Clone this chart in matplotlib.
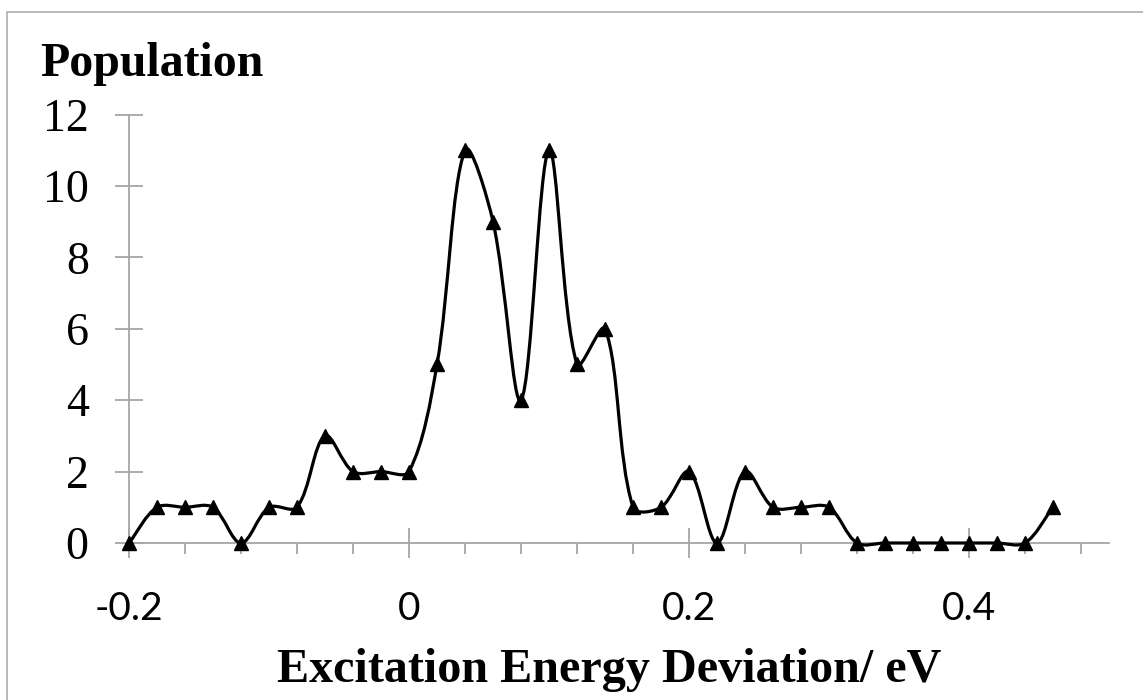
import numpy as np
import matplotlib
matplotlib.use("Agg")
import matplotlib.pyplot as plt
from matplotlib.path import Path
from matplotlib.patches import PathPatch, Rectangle
from matplotlib.ticker import MultipleLocator

# Data
energy = [-0.20, -0.18, -0.16, -0.14, -0.12, -0.10, -0.08, -0.06, -0.04, -0.02,
          0.00, 0.02, 0.04, 0.06, 0.08, 0.10, 0.12, 0.14, 0.16, 0.18,
          0.20, 0.22, 0.24, 0.26, 0.28, 0.30, 0.32, 0.34, 0.36, 0.38,
          0.40, 0.42, 0.44, 0.46]
population = [0, 1, 1, 1, 0, 1, 1, 3, 2, 2,
              2, 5, 11, 9, 4, 11, 5, 6, 1, 1,
              2, 0, 2, 1, 1, 1, 0, 0, 0, 0,
              0, 0, 0, 1]
x_ticks = [-0.2, 0, 0.2, 0.4]
x_tick_labels = ["-0.2", "0", "0.2", "0.4"]
y_ticks = [0, 2, 4, 6, 8, 10, 12]

W, H = 1143, 700
fig = plt.figure(figsize=(W / 100, H / 100), dpi=100)
ax_w, ax_h = (1109 - 129) / W, (543 - 114.5) / H
ax = fig.add_axes([129 / W, 1 - 543 / H, ax_w, ax_h])
xmin, xmax, ymin, ymax = -0.2, 0.5, 0, 12
ax.set_xlim(xmin, xmax)
ax.set_ylim(ymin, ymax)

# Smoothed line (Excel-like Bezier smoothing, computed in screen-space scale)
sx = ax_w * W / (xmax - xmin)
sy = ax_h * H / (ymax - ymin)
pts = np.column_stack([np.array(energy, float) * sx, np.array(population, float) * sy])
n = len(pts)

def dist(a, b):
    return float(np.hypot(*(pts[a] - pts[b])))

def tangent(i):
    return pts[min(i + 1, n - 1)] - pts[max(i - 1, 0)]

verts = [tuple(pts[0])]
codes = [Path.MOVETO]
for i in range(n - 1):
    d01 = dist(max(i - 1, 0), i)
    d12 = dist(i, i + 1)
    d23 = dist(i + 1, min(i + 2, n - 1))
    f1 = d12 / (d01 + d12) / 3.0 if d01 + d12 > 0 else 0
    f2 = d12 / (d12 + d23) / 3.0 if d12 + d23 > 0 else 0
    c1 = pts[i] + tangent(i) * f1
    c2 = pts[i + 1] - tangent(i + 1) * f2
    verts += [tuple(c1), tuple(c2), tuple(pts[i + 1])]
    codes += [Path.CURVE4] * 3
verts = [(vx / sx, vy / sy) for vx, vy in verts]
ax.add_patch(PathPatch(Path(verts, codes), facecolor="none", edgecolor="black",
                       lw=2.3, clip_on=False, zorder=3))
ax.plot(energy, population, linestyle="none", marker="^", color="black",
        markersize=10, clip_on=False, zorder=4)

for s in ["top", "right"]:
    ax.spines[s].set_visible(False)
gray = "#a6a6a6"
for s in ["left", "bottom"]:
    ax.spines[s].set_color(gray)
    ax.spines[s].set_linewidth(1.3)

ax.set_xticks(x_ticks)
ax.set_xticklabels(x_tick_labels, family="Lato", fontsize=28)
ax.xaxis.set_minor_locator(MultipleLocator(0.04))
ax.set_yticks(y_ticks)
ax.set_yticklabels([str(v) for v in y_ticks], family="Liberation Serif", fontsize=33)

ax.tick_params(axis="x", which="major", direction="inout", length=21, width=1.3,
               color=gray, pad=24)
ax.tick_params(axis="x", which="minor", direction="out", length=8, width=1.3,
               color=gray)
ax.tick_params(axis="y", which="major", direction="inout", length=20, width=1.3,
               color=gray, pad=19)

fig.text(40 / W, 1 - 76 / H, "Population", family="Liberation Serif",
         fontweight="bold", fontsize=34.5, ha="left", va="baseline")
fig.text(609 / W, 1 - 682 / H, "Excitation Energy Deviation/ eV",
         family="Liberation Serif", fontweight="bold", fontsize=34.7,
         ha="center", va="baseline")

# Figure border (top and left visible)
fig.patches.append(Rectangle((6.5 / W, -0.1), 1.2, 1 - 11.5 / H + 0.1,
                             transform=fig.transFigure, fill=False,
                             edgecolor="#b3b3b3", lw=1.3))

fig.savefig("out.png", dpi=100)
